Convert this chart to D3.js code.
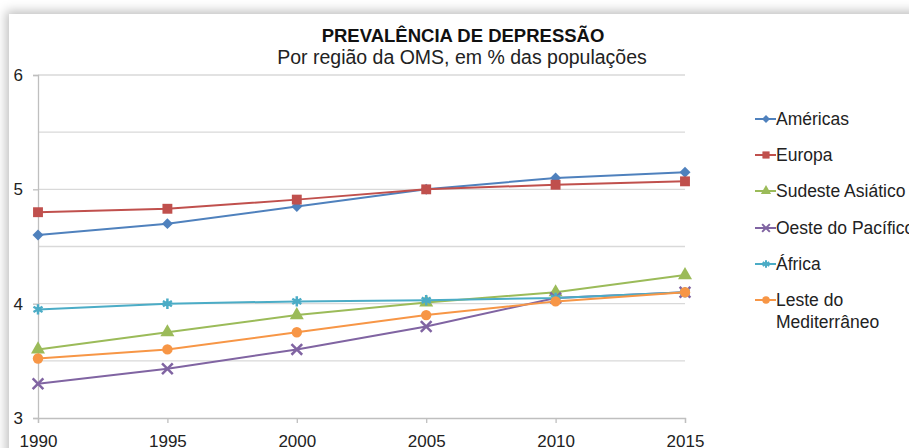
<!DOCTYPE html>
<html>
<head>
<meta charset="utf-8">
<script src="https://cdn.jsdelivr.net/npm/d3@7"></script>
<style>
  body { margin: 0; background: #fff; overflow: hidden; }
  #card {
    position: absolute; left: 9px; top: 14px; width: 940px; height: 480px;
    background: #fff; box-shadow: 0 0 10px 3px rgba(0,0,0,0.25);
  }
  svg { position: absolute; left: 0; top: 0; font-family: "Liberation Sans", Arial, sans-serif; }
</style>
</head>
<body>
<div id="card"></div>
<div id="chart"></div>
<script>
let years = [1990, 1995, 2000, 2005, 2010, 2015];
let regions = ["Américas", "Europa", "Sudeste Asiático", "Oeste do Pacífico", "África", "Leste do Mediterrâneo"];
let americas = [4.6, 4.7, 4.85, 5.0, 5.1, 5.15];
let europa = [4.8, 4.83, 4.91, 5.0, 5.04, 5.07];
let sudeste = [3.6, 3.75, 3.9, 4.01, 4.1, 4.25];
let pacifico = [3.3, 3.43, 3.6, 3.8, 4.05, 4.1];
let africa = [3.95, 4.0, 4.02, 4.03, 4.05, 4.1];
let mediterraneo = [3.52, 3.6, 3.75, 3.9, 4.02, 4.1];
let yTicks = [3, 4, 5, 6];
let gridValues = [3.5, 4, 4.5, 5, 5.5, 6];

let colors = ["#4F81BD", "#C0504D", "#9BBB59", "#8064A2", "#4BACC6", "#F79646"];
let markers = ["diamond", "square", "triangle", "cross", "asterisk", "circle"];
let seriesValues = [americas, europa, sudeste, pacifico, africa, mediterraneo];

let width = 909, height = 448;
let margin = {left: 38, right: 224, top: 75, bottom: 30};

let svg = d3.select("#chart").append("svg")
    .attr("width", width)
    .attr("height", height);

let x = d3.scaleLinear().domain([1990, 2015]).range([margin.left, width - margin.right]);
let y = d3.scaleLinear().domain([3, 6]).range([height - margin.bottom, margin.top]);

// gridlines
svg.append("g").selectAll("line").data(gridValues).enter().append("line")
    .attr("x1", x(1990)).attr("x2", x(2015))
    .attr("y1", d => y(d)).attr("y2", d => y(d))
    .attr("stroke", "#d9d9d9").attr("stroke-width", 1.3);

// y axis
let yAxis = svg.append("g")
    .attr("transform", `translate(${x(1990)},0)`)
    .call(d3.axisLeft(y).tickValues(yTicks).tickSize(5).tickPadding(10).tickFormat(d3.format("d")));
yAxis.select(".domain").attr("stroke", "#bfbfbf").attr("stroke-width", 1.3);
yAxis.selectAll(".tick line").attr("stroke", "#bfbfbf").attr("stroke-width", 1.3);
yAxis.selectAll("text").style("font-size", "17px").attr("fill", "#222")
    .style("font-family", "Liberation Sans, Arial, sans-serif");

// x axis
let xAxis = svg.append("g")
    .attr("transform", `translate(0,${y(3)})`)
    .call(d3.axisBottom(x).tickValues(years).tickSize(5).tickPadding(12).tickFormat(d3.format("d")));
xAxis.select(".domain").attr("stroke", "#bfbfbf").attr("stroke-width", 1.3);
xAxis.selectAll(".tick line").attr("stroke", "#bfbfbf").attr("stroke-width", 1.3);
xAxis.selectAll("text").style("font-size", "17px").attr("fill", "#222")
    .style("font-family", "Liberation Sans, Arial, sans-serif");

let symbolFor = (type, size) => {
    if (type == "diamond") return d3.symbol().type(d3.symbolDiamond2).size(size * 0.9)();
    if (type == "square") return d3.symbol().type(d3.symbolSquare).size(size * 1.15)();
    if (type == "triangle") return d3.symbol().type(d3.symbolTriangle).size(size)();
    if (type == "cross") return d3.symbol().type(d3.symbolTimes).size(size * 0.9)();
    if (type == "asterisk") return d3.symbol().type(d3.symbolAsterisk).size(size * 0.9)();
    return d3.symbol().type(d3.symbolCircle).size(size)();
};

let line = d3.line().x((d, i) => x(years[i])).y(d => y(d));

seriesValues.forEach((vals, s) => {
    let g = svg.append("g");
    g.append("path")
        .datum(vals)
        .attr("d", line)
        .attr("fill", "none")
        .attr("stroke", colors[s])
        .attr("stroke-width", 2);
    let stroked = markers[s] == "cross" || markers[s] == "asterisk";
    g.selectAll("path.m").data(vals).enter().append("path")
        .attr("class", "m")
        .attr("transform", (d, i) => `translate(${x(years[i])},${y(d)})`)
        .attr("d", symbolFor(markers[s], 85))
        .attr("fill", stroked ? "none" : colors[s])
        .attr("stroke", colors[s])
        .attr("stroke-width", stroked ? 2.5 : 0);
});

// legend
let legendY = [119, 155, 191, 228, 264, 300];
let legend = svg.append("g").attr("transform", "translate(755,0)");
regions.forEach((name, s) => {
    let ly = legendY[s];
    legend.append("line")
        .attr("x1", 0).attr("x2", 21).attr("y1", ly).attr("y2", ly)
        .attr("stroke", colors[s]).attr("stroke-width", 2);
    let stroked = markers[s] == "cross" || markers[s] == "asterisk";
    legend.append("path")
        .attr("transform", `translate(11,${ly})`)
        .attr("d", symbolFor(markers[s], 45))
        .attr("fill", stroked ? "none" : colors[s])
        .attr("stroke", colors[s])
        .attr("stroke-width", stroked ? 2 : 0);
    let t = legend.append("text")
        .attr("x", 21).attr("y", ly + 6)
        .style("font-size", "17.5px")
        .attr("fill", "#222");
    if (name == "Leste do Mediterrâneo") {
        t.append("tspan").attr("x", 21).text("Leste do");
        t.append("tspan").attr("x", 21).attr("dy", 22).text("Mediterrâneo");
    } else {
        t.text(name);
    }
});

// title
svg.append("text")
    .attr("x", 463).attr("y", 42)
    .style("text-anchor", "middle")
    .style("font-size", "18.5px")
    .style("font-weight", "bold")
    .attr("fill", "#111")
    .text("PREVALÊNCIA DE DEPRESSÃO");

svg.append("text")
    .attr("x", 462).attr("y", 64)
    .style("text-anchor", "middle")
    .style("font-size", "19.5px")
    .attr("fill", "#222")
    .text("Por região da OMS, em % das populações");
</script>
</body>
</html>
